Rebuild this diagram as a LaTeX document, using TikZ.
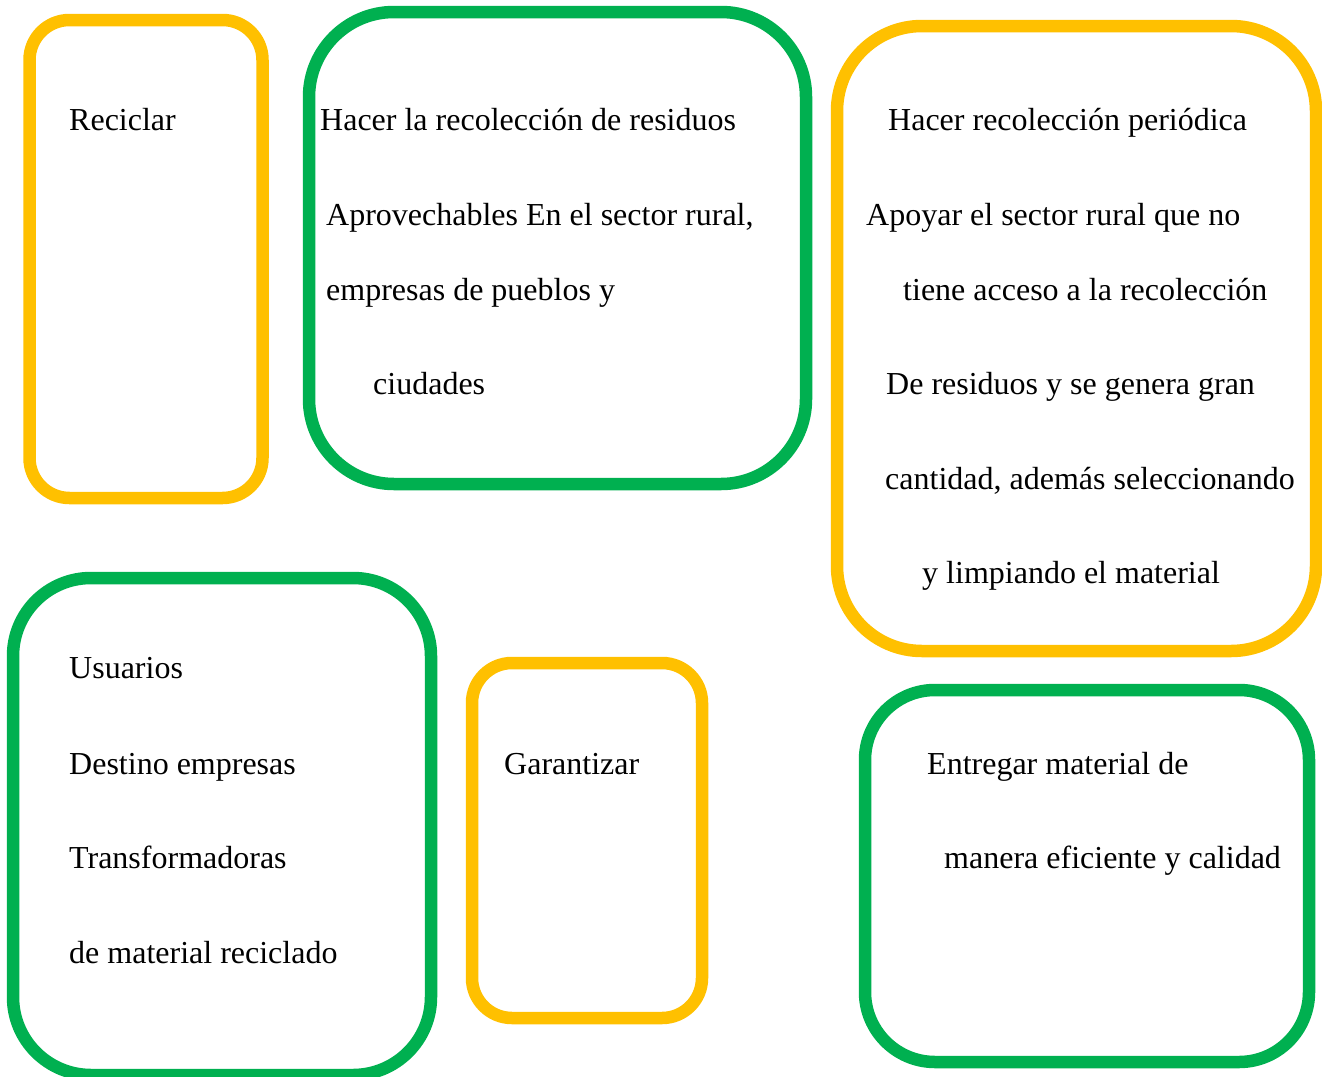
\documentclass[tikz,border=0pt]{standalone}
\usepackage{fontspec}
\setmainfont{Liberation Serif}
\definecolor{amarillo}{HTML}{FFC000}
\definecolor{verde}{HTML}{00B050}
\begin{document}
\begin{tikzpicture}[
        x=1pt, y=-1pt,
        % cajas redondeadas
        caja/.style={draw, line width=12.5pt, rounded corners=#1, inner sep=0pt, fill=white},
        amar/.style={caja=#1, draw=amarillo},
        verd/.style={caja=#1, draw=verde},
        txt/.style={anchor=base west, inner sep=0pt, font=\fontsize{32}{38}\selectfont}
    ]
    \useasboundingbox (0,0) rectangle (1322,1076);
    % cajas
    \node[amar=40pt, minimum width=233pt, minimum height=478pt] (reciclar) at (146,259) {};
    \node[verd=85pt, minimum width=497pt, minimum height=472pt] (recoleccion) at (557.5,248) {};
    \node[amar=85pt, minimum width=479pt, minimum height=625pt] (periodica) at (1076.5,338.5) {};
    \node[verd=78pt, minimum width=418pt, minimum height=497pt] (usuarios) at (222,826.5) {};
    \node[amar=40pt, minimum width=230pt, minimum height=355pt] (garantizar) at (587,840.5) {};
    \node[verd=70pt, minimum width=444pt, minimum height=372pt] (entregar) at (1087,876) {};
    % textos
    \node[txt] (t1) at (69,130) {Reciclar};
    \node[txt] (t2a) at (320,130) {Hacer la recolección de residuos};
    \node[txt] (t2b) at (326,225) {Aprovechables En el sector rural,};
    \node[txt] (t2c) at (326,300) {empresas de pueblos y};
    \node[txt] (t2d) at (373,394) {ciudades};
    \node[txt] (t3a) at (888,130) {Hacer recolección periódica};
    \node[txt] (t3b) at (866,225) {Apoyar el sector rural que no};
    \node[txt] (t3c) at (903,300) {tiene acceso a la recolección};
    \node[txt] (t3d) at (886,394) {De residuos y se genera gran};
    \node[txt] (t3e) at (885,489) {cantidad, además seleccionando};
    \node[txt] (t3f) at (922,583) {y limpiando el material};
    \node[txt] (t4a) at (69,678) {Usuarios};
    \node[txt] (t4b) at (69,774) {Destino empresas};
    \node[txt] (t4c) at (69,868) {Transformadoras};
    \node[txt] (t4d) at (69,963) {de material reciclado};
    \node[txt] (t5) at (504,774) {Garantizar};
    \node[txt] (t6a) at (927,774) {Entregar material de};
    \node[txt] (t6b) at (944,868) {manera eficiente y calidad};
\end{tikzpicture}
\end{document}
